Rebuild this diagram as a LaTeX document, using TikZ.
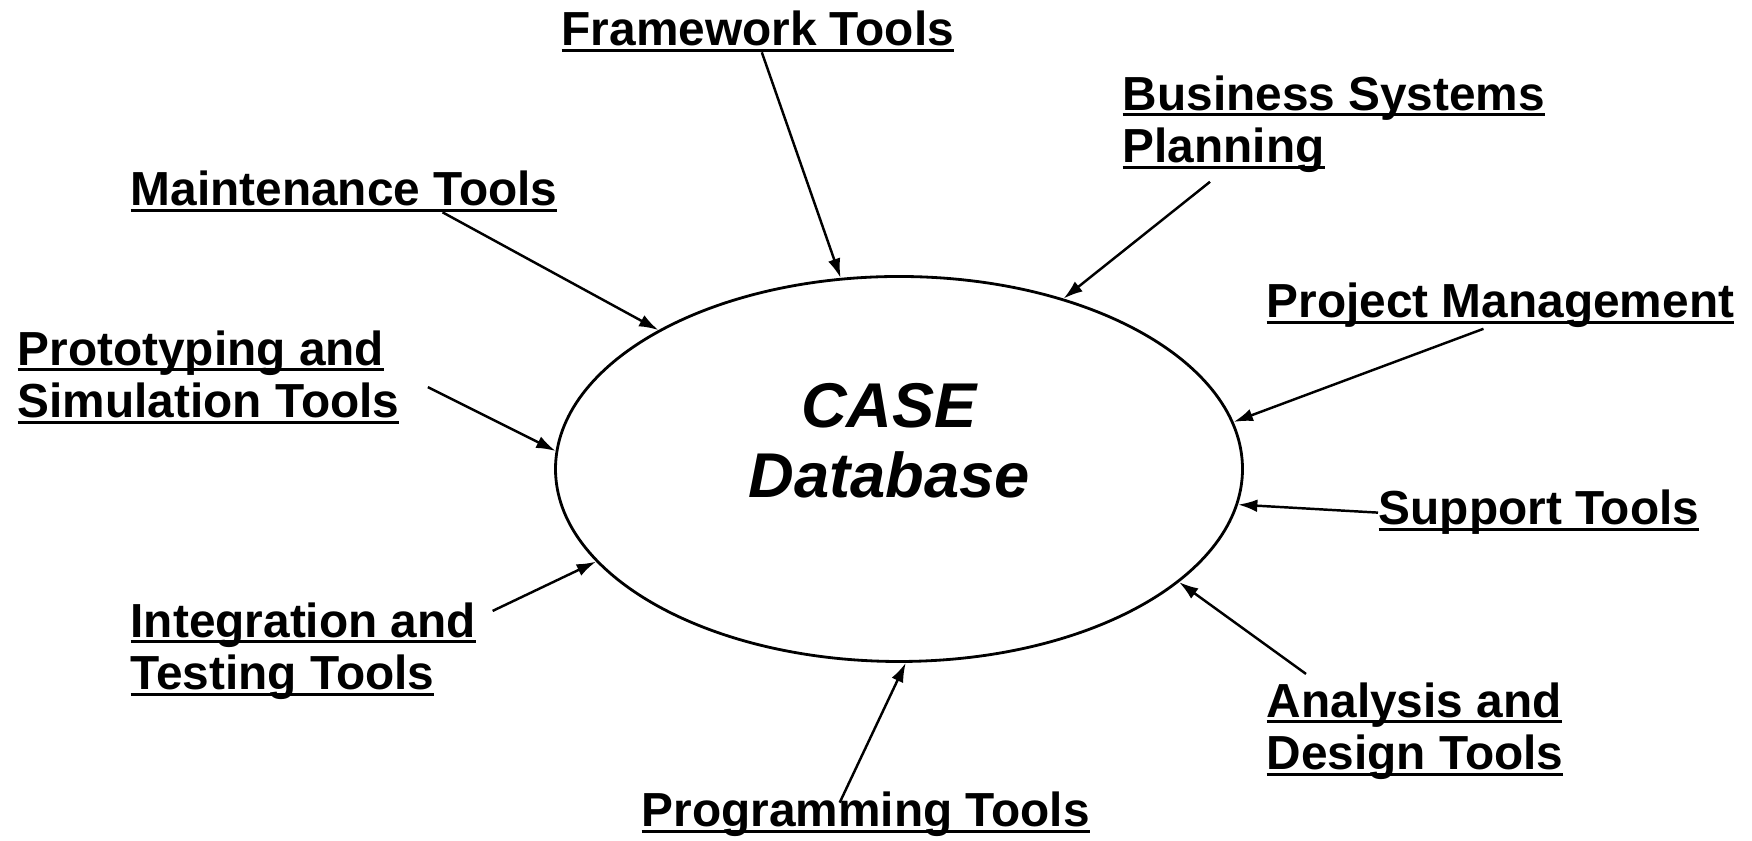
\documentclass[tikz,border=0pt]{standalone}
\usepackage{fontspec}
\setmainfont{Liberation Sans}
\usetikzlibrary{shapes.geometric,arrows.meta}
\newcommand{\undl}[1]{\setbox0=\hbox{#1}\rlap{\rule[-1.6pt]{\wd0}{0.75pt}}\box0}
\tikzset{
	lbl/.style={anchor=base west,inner sep=0pt,align=left,font=\fontsize{13.6}{15}\selectfont\bfseries},
	db/.style={ellipse,draw,line width=0.8pt,minimum width=6.87cm,minimum height=3.85cm,inner sep=0pt},
	dbtxt/.style={anchor=base,inner sep=0pt,align=center,font=\fontsize{18}{20}\selectfont\bfseries\itshape},
	arr/.style={-{Latex[length=5.5pt,width=3.6pt]},line width=0.7pt}
}

\begin{document}
\begin{tikzpicture}
	\useasboundingbox (0,0) rectangle (17.52,8.41);

	\node [db] (case) at (8.99,3.72) {};
	\node [dbtxt] (casename) at (8.89,3.43) {CASE\\Database};

	\node [lbl] (fw) at (5.61,7.95) {\undl{Framework Tools}};
	\node [lbl] (bsp) at (11.22,6.78) {\undl{Business Systems}\\\undl{Planning}};
	\node [lbl] (mt) at (1.30,6.35) {\undl{Maintenance Tools}};
	\node [lbl] (pm) at (12.66,5.23) {\undl{Project Management}};
	\node [lbl] (ps) at (0.17,4.23) {\undl{Prototyping and}\\\undl{Simulation Tools}};
	\node [lbl] (st) at (13.78,3.16) {\undl{Support Tools}};
	\node [lbl] (it) at (1.30,1.51) {\undl{Integration and}\\\undl{Testing Tools}};
	\node [lbl] (ad) at (12.66,0.71) {\undl{Analysis and}\\\undl{Design Tools}};
	\node [lbl] (pt) at (6.41,0.14) {\undl{Programming Tools}};

	\draw [arr] ([xshift=0.04cm]fw.south) -- (case.107);
	\draw [arr] ([xshift=0.88cm,yshift=-0.08cm]bsp.south west) -- (case.46);
	\draw [arr] ([xshift=0.985cm]mt.south) -- (case.150);
	\draw [arr] ([xshift=-0.17cm]pm.south) -- (case.8);
	\draw [arr] ([xshift=0.28cm,yshift=-0.1cm]ps.east) -- (case.177);
	\draw [arr] (st.west) -- (case.354.6);
	\draw [arr] ([xshift=0.16cm,yshift=-0.09cm]it.north east) -- (case.197);
	\draw [arr] ([xshift=0.4cm,yshift=0.08cm]ad.north west) -- (case.338);
	\draw [arr] ([xshift=-0.26cm,yshift=-0.11cm]pt.north) -- (case.272);
\end{tikzpicture}
\end{document}
